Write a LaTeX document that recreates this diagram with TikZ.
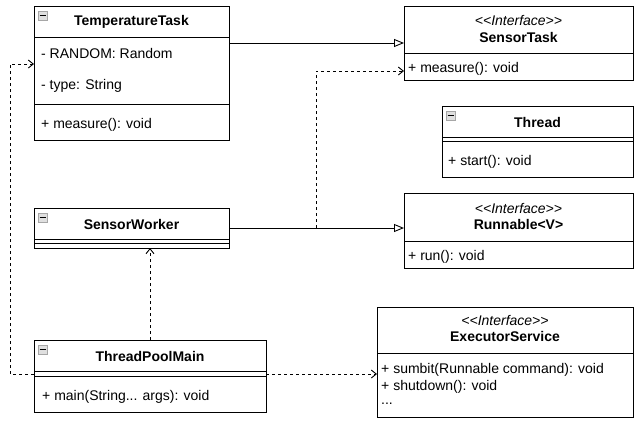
\documentclass[tikz,border=0pt]{standalone}
\usepackage{fontspec}
\setmainfont[Ligatures=NoCommon]{Liberation Sans}
\usetikzlibrary{arrows.meta}
\newcommand{\stereoI}{\textless\kern0pt\textless\kern0ptInterface\textgreater\kern0pt\textgreater}
\begin{document}
\begin{tikzpicture}[x=1pt,y=-1pt,
  cls/.style={draw=black, line width=0.9pt, fill=white, rectangle, anchor=north west, inner sep=0pt, outer sep=0pt},
  sepline/.style={draw=black, line width=0.9pt},
  txt/.style={anchor=west, inner sep=0pt, font=\fontsize{14}{16}\selectfont},
  ttl/.style={inner sep=0pt, font=\fontsize{14}{16}\selectfont\bfseries},
  stereo/.style={inner sep=0pt, font=\fontsize{14}{16}\selectfont\itshape},
  icon/.style={draw=gray!70, fill=gray!25, line width=0.4pt, rectangle, minimum width=9pt, minimum height=9pt, inner sep=0pt, anchor=north west},
  realize/.style={draw=black, line width=0.9pt, -{Triangle[open, length=10pt, width=8pt]}},
  dep/.style={draw=black, line width=0.9pt, dash pattern=on 3pt off 3pt, -{Straight Barb[length=5pt, width=8pt]}}
]
\useasboundingbox (0,0) rectangle (643,421);

% ---------- boxes ----------
\node[cls, minimum width=195pt, minimum height=134pt] (tt) at (34,6) {};
\node[cls, minimum width=229pt, minimum height=74pt] (st) at (404,6) {};
\node[cls, minimum width=191pt, minimum height=71pt] (th) at (442,106) {};
\node[cls, minimum width=229pt, minimum height=75pt] (rn) at (404,193) {};
\node[cls, minimum width=256pt, minimum height=110pt] (es) at (377,307) {};
\node[cls, minimum width=195pt, minimum height=40pt] (sw) at (34,208) {};
\node[cls, minimum width=232pt, minimum height=72pt] (tpm) at (34,340) {};

\coordinate (j) at (316,228);

% ---------- connectors ----------
\draw[realize] (tt.east |- st.west) -- (st.west);
\draw[realize] (sw.east) -- (sw.east -| rn.west);
\draw[dep] (j) |- ([yshift=9pt]st.south west);
\draw[dep] (tpm.north) -- (tpm.north |- sw.south);
\draw[dep] ([yshift=2pt]tpm.east) -- ([yshift=2pt]tpm.east -| es.west);
\draw[dep] ([yshift=2pt]tpm.west) -- ++(-24,0) |- ([yshift=9pt]tt.west);

% ---------- TemperatureTask ----------
\draw[sepline] (34,37) -- (229,37);
\draw[sepline] (34,104) -- (229,104);
\node[icon] (tti) at (38,11) {};
\draw[black, line width=0.8pt] ([xshift=1.5pt,yshift=-4.5pt]tti.north west) -- ([xshift=-1.5pt,yshift=-4.5pt]tti.north east);
\node[ttl] (ttt) at (131.5,22) {TemperatureTask};
\node[txt] (tt1) at (41,53) {- RANDOM: Random};
\node[txt] (tt2) at (41,86) {- type: String};
\node[txt] (tt3) at (41,125) {+ measure(): void};

% ---------- SensorTask ----------
\draw[sepline] (404,53) -- (633,53);
\node[stereo] (sts) at (518.5,20) {\stereoI};
\node[ttl] (stt) at (518.5,37) {SensorTask};
\node[txt] (st1) at (408,69) {+ measure(): void};

% ---------- Thread ----------
\draw[sepline] (442,137.5) -- (633,137.5);
\draw[sepline] (442,141.7) -- (633,141.7);
\node[icon] (thi) at (446,111) {};
\draw[black, line width=0.8pt] ([xshift=1.5pt,yshift=-4.5pt]thi.north west) -- ([xshift=-1.5pt,yshift=-4.5pt]thi.north east);
\node[ttl] (tht) at (537.5,122.5) {Thread};
\node[txt] (th1) at (448,162) {+ start(): void};

% ---------- Runnable<V> ----------
\draw[sepline] (404,241) -- (633,241);
\node[stereo] (rns) at (518.5,208) {\stereoI};
\node[ttl] (rnt) at (518.5,224) {Runnable\textless V\textgreater};
\node[txt] (rn1) at (408,257) {+ run(): void};

% ---------- ExecutorService ----------
\draw[sepline] (377,353) -- (633,353);
\node[stereo] (ess) at (505,320) {\stereoI};
\node[ttl] (est) at (505,336) {ExecutorService};
\node[txt] (es1) at (381,370) {+ sumbit(Runnable command): void};
\node[txt] (es2) at (381,387) {+ shutdown(): void};
\node[txt] (es3) at (381,404) {...};

% ---------- SensorWorker ----------
\draw[sepline] (34,239) -- (229,239);
\draw[sepline] (34,243) -- (229,243);
\node[icon] (swi) at (38,213) {};
\draw[black, line width=0.8pt] ([xshift=1.5pt,yshift=-4.5pt]swi.north west) -- ([xshift=-1.5pt,yshift=-4.5pt]swi.north east);
\node[ttl] (swt) at (131.5,224) {SensorWorker};

% ---------- ThreadPoolMain ----------
\draw[sepline] (34,371) -- (266,371);
\draw[sepline] (34,376) -- (266,376);
\node[icon] (tpi) at (38,345) {};
\draw[black, line width=0.8pt] ([xshift=1.5pt,yshift=-4.5pt]tpi.north west) -- ([xshift=-1.5pt,yshift=-4.5pt]tpi.north east);
\node[ttl] (tpt) at (150,356) {ThreadPoolMain};
\node[txt] (tp1) at (42,397) {+ main(String... args): void};
\end{tikzpicture}
\end{document}
